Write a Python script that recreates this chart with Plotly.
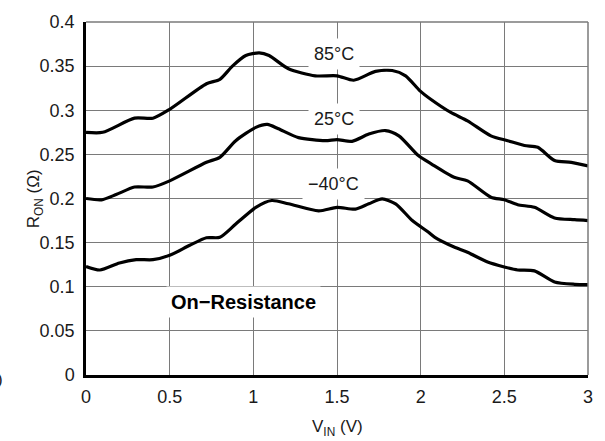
import plotly.graph_objects as go

# ---- data ----
x_85 = [0.0, 0.1, 0.29, 0.40, 0.5, 0.72, 0.80, 0.875, 0.955, 1.035, 1.094, 1.21, 1.37, 1.5, 1.60, 1.73, 1.83, 1.91, 1.996, 2.06, 2.18, 2.28, 2.42, 2.52, 2.62, 2.70, 2.80, 2.90, 3.0]
y_85 = [0.275, 0.275, 0.291, 0.291, 0.301, 0.330, 0.335, 0.350, 0.362, 0.365, 0.362, 0.347, 0.339, 0.339, 0.334, 0.344, 0.345, 0.339, 0.322, 0.3125, 0.2975, 0.288, 0.271, 0.2655, 0.260, 0.258, 0.243, 0.241, 0.237]

x_25 = [0.0, 0.093, 0.18, 0.29, 0.40, 0.5, 0.72, 0.80, 0.895, 1.015, 1.084, 1.15, 1.27, 1.43, 1.5, 1.59, 1.69, 1.79, 1.87, 1.986, 2.065, 2.20, 2.28, 2.42, 2.50, 2.58, 2.68, 2.80, 2.92, 3.0]
y_25 = [0.200, 0.1985, 0.2045, 0.213, 0.213, 0.220, 0.241, 0.2467, 0.2655, 0.2806, 0.284, 0.279, 0.269, 0.2655, 0.2667, 0.2648, 0.273, 0.277, 0.271, 0.2486, 0.239, 0.224, 0.220, 0.2015, 0.1985, 0.193, 0.190, 0.178, 0.176, 0.175]

x_m40 = [0.0, 0.083, 0.20, 0.30, 0.40, 0.5, 0.62, 0.72, 0.80, 0.895, 1.015, 1.11, 1.21, 1.39, 1.5, 1.61, 1.69, 1.77, 1.85, 1.95, 2.045, 2.085, 2.20, 2.28, 2.40, 2.50, 2.58, 2.68, 2.80, 2.92, 3.0]
y_m40 = [0.123, 0.119, 0.127, 0.1307, 0.1307, 0.1356, 0.147, 0.1555, 0.156, 0.171, 0.190, 0.1977, 0.194, 0.186, 0.190, 0.188, 0.194, 0.1995, 0.194, 0.175, 0.162, 0.156, 0.145, 0.139, 0.128, 0.1224, 0.119, 0.118, 0.1055, 0.1028, 0.1025]

x_ticks = [0, 0.5, 1, 1.5, 2, 2.5, 3]
x_tick_labels = ["0", "0.5", "1", "1.5", "2", "2.5", "3"]
y_ticks = [0, 0.05, 0.1, 0.15, 0.2, 0.25, 0.3, 0.35, 0.4]
y_tick_labels = ["0", "0.05", "0.1", "0.15", "0.2", "0.25", "0.3", "0.35", "0.4"]

curve_labels = ["85°C", "25°C", "−40°C"]
label_pos = [(1.48, 0.3638), (1.48, 0.290), (1.48, 0.217)]

FONT = "Liberation Sans, Arial, sans-serif"
GRID = "#7a7a7a"

fig = go.Figure()
for xs, ys in [(x_85, y_85), (x_25, y_25), (x_m40, y_m40)]:
    fig.add_trace(go.Scatter(x=xs, y=ys, mode="lines",
                             line=dict(color="black", width=3.2, shape="spline", smoothing=0.7),
                             showlegend=False, hoverinfo="skip"))

for txt, (lx, ly) in zip(curve_labels, label_pos):
    fig.add_annotation(x=lx, y=ly, xref="x", yref="y", text=txt, showarrow=False,
                       font=dict(family=FONT, size=18, color="#1a1a1a"),
                       bgcolor="white", borderpad=5)

fig.add_annotation(x=0.94, y=0.0825, xref="x", yref="y", text="<b>On−Resistance</b>",
                   showarrow=False, font=dict(family=FONT, size=20, color="black"),
                   bgcolor="white", borderpad=4)

# axis titles
fig.add_annotation(x=-0.128, y=0.5, xref="paper", yref="paper",
                   text="R<sub>ON</sub> (Ω)", textangle=-90, showarrow=False,
                   font=dict(family=FONT, size=17, color="#1a1a1a"))
fig.add_annotation(x=0.5, y=-0.15, xref="paper", yref="paper", yanchor="middle",
                   text="V<sub>IN</sub> (V)", showarrow=False,
                   font=dict(family=FONT, size=17, color="#1a1a1a"))
# clipped glyph at the left edge
fig.add_annotation(x=-0.162, y=-0.045, xref="paper", yref="paper", xanchor="right",
                   text=")", showarrow=False,
                   font=dict(family=FONT, size=17, color="#1a1a1a"))

# top / right frame in grid colour
fig.add_shape(type="line", xref="paper", yref="paper", x0=0, x1=1, y0=1, y1=1,
              line=dict(color=GRID, width=1.5))
fig.add_shape(type="line", xref="paper", yref="paper", x0=1, x1=1, y0=0, y1=1,
              line=dict(color=GRID, width=1.5))

fig.update_layout(
    width=605, height=441,
    margin=dict(l=86, r=14, t=21, b=66),
    paper_bgcolor="white", plot_bgcolor="white",
    font=dict(family=FONT, size=18, color="#1a1a1a"),
    xaxis=dict(range=[0, 3], tickvals=x_ticks, ticktext=x_tick_labels,
               showgrid=True, gridcolor=GRID, gridwidth=1.2,
               showline=True, linecolor="black", linewidth=2.5,
               ticks="", ticklabelstandoff=4, zeroline=False,
               tickfont=dict(size=18)),
    yaxis=dict(range=[0, 0.4], tickvals=y_ticks, ticktext=y_tick_labels,
               showgrid=True, gridcolor=GRID, gridwidth=1.2,
               showline=True, linecolor="black", linewidth=2.5,
               ticks="", ticklabelstandoff=5, zeroline=False,
               tickfont=dict(size=18)),
)

fig.write_html("out.html", config={"displayModeBar": False},
               post_script="document.body.style.margin='0px';document.body.style.overflow='hidden';")
